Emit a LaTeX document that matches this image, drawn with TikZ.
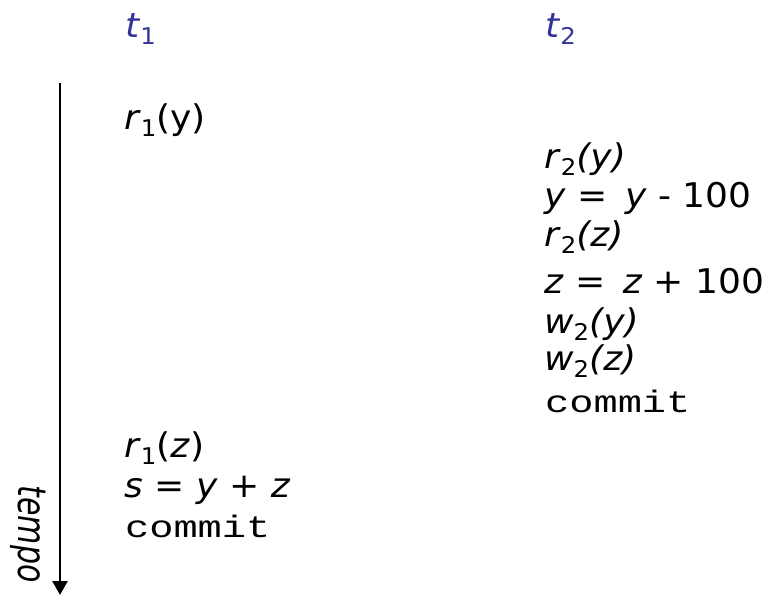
\documentclass[tikz,border=0pt]{standalone}
\usepackage{fontspec}
\setmainfont{DejaVu Sans}
\newfontfamily\cmfont{Liberation Mono}
\usetikzlibrary{arrows.meta}
\newcommand{\sbx}[1]{\raisebox{-7pt}{\fontsize{23}{23}\selectfont #1}}
\newcommand{\cmt}{{\cmfont\fontsize{31}{31}\selectfont\scalebox{1.3}[1]{commit}}}
\newcommand{\wide}[1]{\scalebox{1.06}[1]{#1}}
\definecolor{tblue}{RGB}{51,51,153}
\begin{document}
\begin{tikzpicture}[x=1pt,y=-1pt,
  txt/.style={anchor=base west,inner sep=0pt,font=\fontsize{34}{34}\selectfont},
  hdr/.style={txt,text=tblue},
  timeline/.style={line width=2.5pt,-{Triangle[length=14pt,width=15pt]}}]
\useasboundingbox (0,0) rectangle (767,595);
% headers
\node[hdr] (t1) at (125,37) {\wide{\textit{t}\sbx{1}}};
\node[hdr] (t2) at (545,37) {\wide{\textit{t}\sbx{2}}};
% left column
\node[txt] (a1) at (124,129) {\wide{\textit{r}\sbx{1}(y)}};
\node[txt] (a2) at (124,457) {\wide{\textit{r}\sbx{1}(\textit{z})}};
\node[txt] (a3) at (124,497) {\wide{\textit{s} = \textit{y} + \textit{z}}};
\node[txt] (a4) at (125,537) {\cmt};
% right column
\node[txt] (b1) at (544,168) {\wide{\textit{r}\sbx{2}\textit{(y)}}};
\node[txt] (b2) at (544,207) {\wide{\textit{y} = \,\textit{y} - 100}};
\node[txt] (b3) at (544,246) {\wide{\textit{r}\sbx{2}\textit{(z)}}};
\node[txt] (b4) at (544,293) {\wide{\textit{z} = \,\textit{z} + 100}};
\node[txt] (b5) at (544,333) {\wide{\textit{w}\sbx{2}\textit{(y)}}};
\node[txt] (b6) at (544,370) {\wide{\textit{w}\sbx{2}\textit{(z)}}};
\node[txt] (b7) at (545,412) {\cmt};
% time arrow
\coordinate (ts) at (60,83);
\coordinate (te) at (60,595);
\draw[timeline] (ts) -- (te);
\node[rotate=-90,inner sep=0pt,font=\fontsize{30}{30}\selectfont] (tempo) at (28,534) {\scalebox{1}[1.3]{\textit{tempo}}};
\end{tikzpicture}
\end{document}
